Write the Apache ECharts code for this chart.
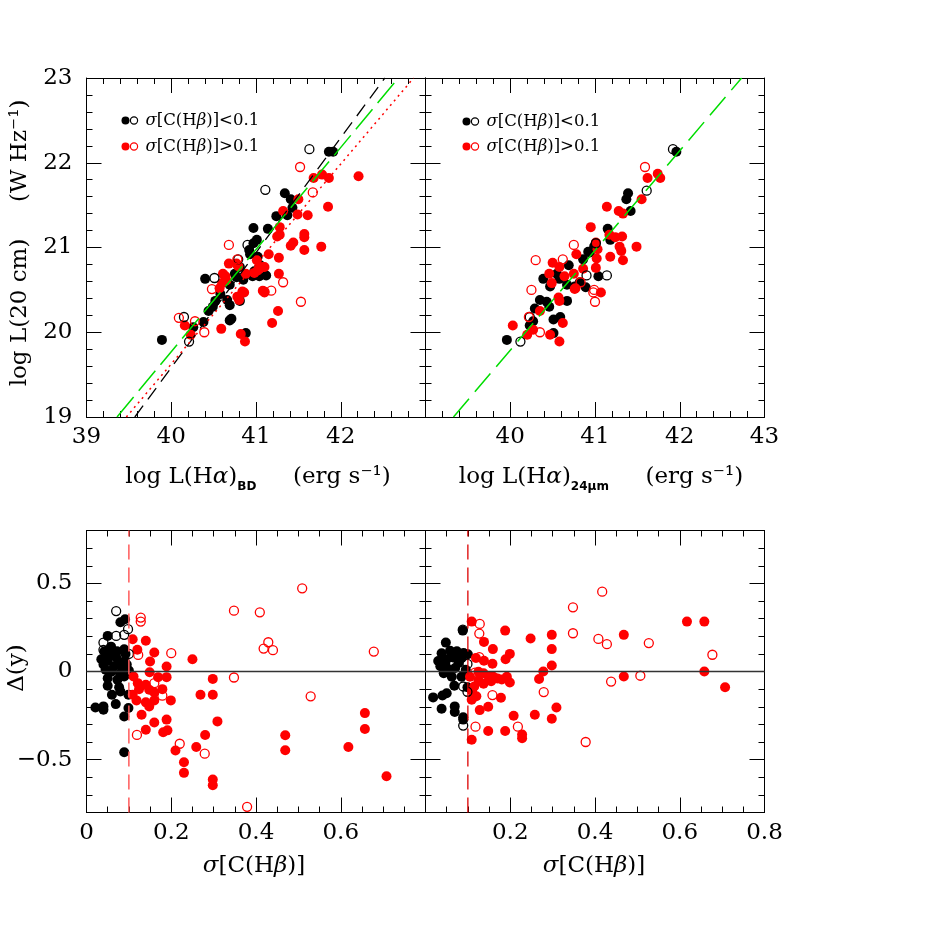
<!DOCTYPE html>
<html><head><meta charset="utf-8">
<script src="https://cdn.jsdelivr.net/npm/echarts@6/dist/echarts.min.js"></script>
<style>html,body{margin:0;padding:0;background:#fff}#c{width:926px;height:926px}</style>
</head><body><div id="c"></div>
<script>
// ---------- DATA ----------
// Top-left: log L(Halpha)_BD vs log L(20cm)
const tlBlackFilled = [[41.86,22.13],[41.91,22.13],[41.34,21.64],[41.41,21.57],[41.43,21.47],[41.37,21.38],[41.24,21.37],
 [40.97,21.23],[41.14,21.22],[41.01,21.09],[40.97,21.05],[40.92,20.97],[40.93,20.92],[41.02,20.89],[41.05,20.79],
 [40.96,20.66],[41.04,20.66],[41.12,20.67],[40.81,20.77],[40.75,20.69],[40.77,20.65],[40.69,20.56],[40.98,20.72],[40.85,20.62],
 [40.66,20.38],[40.69,20.32],[40.81,20.37],[40.40,20.63],[40.52,20.37],[40.49,20.30],[40.44,20.25],[40.58,20.45],
 [40.38,20.12],[40.26,20.06],[39.89,19.91],[40.88,19.99],[40.71,20.16],[40.69,20.14]];
const tlBlackOpen = [[41.63,22.16],[41.11,21.68],[40.90,21.03],[40.79,20.86],[40.51,20.64],[40.15,20.18],[40.21,19.89]];
const tlRedFilled = [[41.68,21.82],[41.78,21.86],[41.86,21.82],[42.21,21.84],[41.50,21.57],[41.85,21.48],[41.32,21.43],[41.49,21.39],[41.61,21.38],
 [41.28,21.24],[41.25,21.13],[41.28,21.15],[41.57,21.16],[41.57,21.12],[41.44,21.06],[41.41,21.02],[41.57,20.97],[41.77,21.01],
 [41.15,20.92],[41.27,20.88],[41.01,20.85],[41.08,20.77],[41.02,20.73],[41.27,20.69],[40.79,20.78],[40.68,20.81],[40.88,20.69],
 [40.61,20.69],[40.64,20.66],[40.60,20.58],[40.57,20.52],[40.78,20.42],[40.86,20.47],[40.80,20.38],[41.08,20.49],[41.26,20.25],
 [41.19,20.11],[40.59,20.04],[40.82,19.98],[40.87,19.89],[40.16,20.08],[40.23,19.97],
 [40.65,20.61],[40.77,20.81],[40.98,20.70],[41.04,20.75],[41.10,20.77],[41.10,20.47],[40.84,20.48]];
const tlRedOpen = [[41.52,21.95],[41.67,21.65],[40.68,21.03],[40.78,20.86],[41.32,20.59],[41.18,20.49],[41.10,20.48],
 [41.53,20.36],[40.48,20.51],[40.09,20.17],[40.28,20.13],[40.39,20.00]];
const tlGreenFit = [[39.36,19],[42.68,23]];
const tlBlackFit = [[39.57,19],[42.52,23]];
const tlRedFit = [[39.47,19],[42.86,23]];

// Top-right: log L(Halpha)_24um vs log L(20cm)
const trBlackFilled = [[41.96,22.13],[41.39,21.64],[41.37,21.57],[41.42,21.43],[41.15,21.22],[41.18,21.09],[40.99,21.01],[40.94,20.94],[40.86,20.86],
 [40.69,20.79],[40.55,20.69],[40.39,20.63],[40.47,20.54],[40.58,20.63],[40.67,20.56],[40.82,20.59],[40.89,20.53],[41.04,20.66],
 [40.35,20.38],[40.43,20.36],[40.46,20.30],[40.67,20.37],[40.29,20.28],[40.27,20.13],[40.23,20.08],[40.59,20.18],[40.51,20.15],
 [40.51,19.99],[39.96,19.91],[40.92,20.95],[40.76,20.54]];
const trBlackOpen = [[41.92,22.16],[41.61,21.67],[41.14,20.67],[40.90,20.67],[41.01,21.05],[40.12,19.89],[40.23,20.18]];
const trRedFilled = [[41.62,21.82],[41.74,21.87],[41.77,21.82],[41.55,21.57],[41.14,21.48],[41.28,21.43],[41.33,21.40],[40.95,21.24],[41.17,21.15],
 [41.24,21.12],[41.32,21.13],[41.29,21.01],[41.31,20.96],[41.49,21.01],[41.18,20.89],[41.33,20.85],[41.01,21.06],[40.78,20.92],
 [41.02,20.87],[41.01,20.76],[40.50,20.82],[40.58,20.77],[40.46,20.69],[40.64,20.66],[40.75,20.69],[40.86,20.75],[40.49,20.58],
 [40.77,20.52],[40.57,20.41],[41.07,20.47],[40.35,20.25],[40.62,20.11],[40.03,20.08],[40.20,19.97],[40.27,20.03],[40.47,19.97],[40.58,19.89],
 [40.76,20.51],[40.58,20.37],[41.03,20.98]];
const trRedOpen = [[41.59,21.95],[40.75,21.03],[40.30,20.85],[40.62,20.86],[40.25,20.50],[40.83,20.59],[40.99,20.50],[41.00,20.36],
 [40.22,20.18],[40.35,20.00],[40.98,20.47]];
const trGreenFit = [[39.33,19],[42.73,23]];

// Bottom-left: sigma[C(Hbeta)] vs Delta(y) (BD)
const blBlackFilled = [[0.080,0.279],[0.091,0.296],[0.050,0.202],[0.089,0.126],[0.058,0.141],[0.042,0.113],
 [0.055,0.090],[0.070,0.080],[0.050,0.060],[0.075,0.050],[0.040,0.040],[0.065,0.030],[0.090,0.060],[0.085,0.020],[0.045,0.010],
 [0.060,0.000],[0.080,-0.010],[0.095,0.040],[0.100,0.005],[0.035,0.070],[0.062,0.105],[0.092,0.100],[0.072,0.115],
 [0.050,-0.038],[0.073,-0.047],[0.089,-0.028],[0.050,-0.081],[0.077,-0.089],[0.060,-0.132],[0.080,-0.113],[0.099,-0.132],
 [0.021,-0.204],[0.040,-0.198],[0.040,-0.217],[0.069,-0.185],[0.099,-0.207],[0.089,-0.255],[0.089,-0.458]];
const blBlackOpen = [[0.070,0.343],[0.098,0.240],[0.070,0.202],[0.089,0.208],[0.040,0.164],[0.040,0.123],[0.100,0.100]];
const blRedFilled = [[0.250,0.070],[0.298,-0.042],[0.269,-0.132],[0.298,-0.132],[0.309,-0.283],[0.280,-0.360],[0.259,-0.428],
 [0.210,-0.448],[0.230,-0.515],[0.230,-0.575],[0.298,-0.613],[0.298,-0.645],
 [0.469,-0.362],[0.469,-0.447],[0.657,-0.236],[0.657,-0.326],[0.618,-0.428],[0.708,-0.594],
 [0.199,-0.164],[0.189,0.028],[0.189,-0.032],[0.189,-0.273],[0.181,-0.345],[0.191,-0.334],
 [0.160,0.108],[0.150,0.057],[0.149,-0.004],[0.169,-0.032],[0.140,0.174],[0.109,0.183],[0.120,0.123],
 [0.130,-0.245],[0.140,-0.330],[0.160,-0.289],[0.148,-0.198],[0.140,-0.175],[0.118,-0.164],[0.109,-0.132],
 [0.111,-0.028],[0.121,-0.066],[0.140,-0.075],[0.124,-0.100],[0.148,-0.104],[0.160,-0.119],[0.179,-0.100],[0.160,-0.164]];
const blRedOpen = [[0.509,0.472],[0.348,0.345],[0.409,0.336],[0.429,0.166],[0.418,0.130],[0.440,0.121],[0.678,0.113],
 [0.348,-0.034],[0.529,-0.141],[0.200,0.104],[0.220,-0.410],[0.279,-0.466],[0.379,-0.768],[0.119,-0.360],
 [0.128,0.306],[0.128,0.283],[0.179,-0.137],[0.160,-0.066],[0.122,0.094]];

// Bottom-right: sigma[C(Hbeta)] vs Delta(y) (24um)
const brBlackFilled = [[0.088,0.232],[0.048,0.164],[0.038,0.104],[0.058,0.118],[0.074,0.115],[0.090,0.105],[0.100,0.098],
 [0.035,0.030],[0.047,0.040],[0.055,0.010],[0.043,-0.010],[0.070,0.020],[0.078,0.048],[0.062,-0.030],[0.085,-0.030],
 [0.095,0.010],[0.050,0.070],[0.065,0.080],[0.030,0.060],[0.085,0.075],
 [0.068,-0.081],[0.099,-0.089],[0.018,-0.147],[0.040,-0.136],[0.050,-0.123],[0.038,-0.211],[0.069,-0.198],[0.069,-0.230],
 [0.089,-0.260],[0.089,-0.273]];
const brBlackOpen = [[0.088,0.238],[0.099,0.043],[0.089,-0.085],[0.099,-0.115],[0.089,-0.307]];
const brRedFilled = [[0.109,0.283],[0.138,0.168],[0.159,0.127],[0.158,0.044],[0.138,0.061],[0.119,0.077],[0.188,0.232],
 [0.199,0.100],[0.189,0.070],[0.248,0.187],[0.298,0.208],[0.298,0.127],[0.298,0.034],[0.278,0.000],[0.268,-0.043],
 [0.468,0.208],[0.468,-0.028],[0.617,0.283],[0.658,0.283],[0.658,0.000],[0.707,-0.089],
 [0.199,-0.062],[0.178,-0.149],[0.148,-0.200],[0.128,-0.219],[0.109,-0.160],[0.109,-0.387],[0.148,-0.338],[0.188,-0.338],
 [0.208,-0.251],[0.228,-0.357],[0.228,-0.379],[0.258,-0.245],[0.298,-0.268],[0.309,-0.204],
 [0.125,-0.002],[0.137,-0.010],[0.148,-0.025],[0.160,-0.030],[0.170,-0.040],[0.180,-0.045],[0.192,-0.030],
 [0.125,-0.050],[0.115,-0.085],[0.110,-0.110],[0.120,-0.140],[0.137,-0.070],[0.155,-0.055],[0.105,-0.030]];
const brRedOpen = [[0.417,0.453],[0.348,0.364],[0.348,0.217],[0.408,0.185],[0.428,0.155],[0.527,0.161],[0.677,0.095],
 [0.438,-0.057],[0.507,-0.024],[0.279,-0.117],[0.378,-0.400],[0.218,-0.313],[0.158,-0.134],[0.118,-0.313],
 [0.128,0.270],[0.127,0.215],[0.127,0.081],[0.117,-0.006]];

// reference lines in the lower panels
const zeroLine = [[0,0],[0.8,0]];
const sigmaCut = [[0.1,-0.8],[0.1,0.8]];

// axis ranges / tick labels
const topXRange = {min:39, max:43, interval:1, minor:5};
const topYRange = {min:19, max:23, interval:1, minor:5};
const botXRange = {min:0, max:0.8, interval:0.2, minor:4};
const botYRange = {min:-0.8, max:0.8, interval:0.1, minor:0};
const botYMajor = {min:-0.5, max:0.5, interval:0.5, minor:0};

// ---------- CHART ----------
const FONT = 'DejaVu Serif';
const FS = 23;
const P = [
  {left:86.5, top:78, width:339, height:339},
  {left:425.5, top:78, width:339, height:339},
  {left:86.5, top:530.5, width:339, height:282},
  {left:425.5, top:530.5, width:339, height:282}
];
// sub-grids carrying the long ticks of the lower panels' y axes
function subGrid(p){
  const span = botYRange.max - botYRange.min;
  return {left:p.left, width:p.width,
    top: p.top + (botYRange.max - botYMajor.max)/span*p.height,
    height: (botYMajor.max - botYMajor.min)/span*p.height};
}
const grids = P.concat([subGrid(P[2]), subGrid(P[3])]);

function fmtNum(v){
  if (Math.abs(v) < 1e-9) return '0';
  return String(+v.toFixed(2)).replace('-', '\u2212');
}
function axisPair(dim, gi, cfg, labelFmt, opts){
  opts = opts || {};
  const base = {
    type:'value', gridIndex:gi, min:cfg.min, max:cfg.max, interval:cfg.interval,
    axisLine:{show:!opts.noLine, onZero:false, lineStyle:{color:'#000', width:1}},
    axisTick:{show:true, inside:true, length:opts.tickLen || 15, lineStyle:{color:'#000', width:1}},
    minorTick:{show:!!cfg.minor, splitNumber:cfg.minor || 5, length:6, lineStyle:{color:'#000', width:1}},
    splitLine:{show:false}, minorSplitLine:{show:false}
  };
  const a = Object.assign({}, base, {
    position: dim === 'x' ? 'bottom' : 'left',
    axisLabel: labelFmt ? {show:true, formatter:labelFmt, fontFamily:FONT, fontSize:FS, color:'#000',
      margin: dim === 'x' ? 9 : 14, showMinLabel:true, showMaxLabel:true, hideOverlap:false} : {show:false}
  });
  const b = Object.assign({}, base, {position: dim === 'x' ? 'top' : 'right', axisLabel:{show:false}});
  return [a, b];
}

const xAxis = [].concat(
  axisPair('x', 0, topXRange, v => v > 42.5 ? '' : String(v)),
  axisPair('x', 1, topXRange, v => v < 39.5 ? '' : String(v)),
  axisPair('x', 2, botXRange, v => v > 0.75 ? '' : fmtNum(v)),
  axisPair('x', 3, botXRange, v => v < 0.05 ? '' : fmtNum(v)),
  [{type:'value', gridIndex:4, show:false, min:0, max:1}, {type:'value', gridIndex:5, show:false, min:0, max:1}]
);
const yAxis = [].concat(
  axisPair('y', 0, topYRange, v => String(v)),
  axisPair('y', 1, topYRange, null),
  axisPair('y', 2, botYRange, null, {tickLen:6}),
  axisPair('y', 3, botYRange, null, {tickLen:6}),
  axisPair('y', 4, botYMajor, v => fmtNum(v), {noLine:true}),
  axisPair('y', 5, botYMajor, null, {noLine:true})
);

function sc(data, xi, yi, color, filled){
  return {type:'scatter', xAxisIndex:xi, yAxisIndex:yi, data:data, symbol:'circle',
    symbolSize: filled ? 10 : 9, silent:true, z: filled ? 2 : 3, animation:false,
    itemStyle: filled ? {color:color, opacity:1} : {color:'rgba(0,0,0,0)', borderColor:color, borderWidth:1.3, opacity:1}};
}
function ln(data, xi, yi, color, type, width){
  return {type:'line', xAxisIndex:xi, yAxisIndex:yi, data:data, symbol:'none', silent:true, z:5, animation:false,
    lineStyle:{color:color, type:type, width:width}};
}
const RED = '#ff0000', BLK = '#000000', GRN = '#00dd00';
const series = [
  sc(tlBlackFilled, 0, 0, BLK, true), sc(tlBlackOpen, 0, 0, BLK, false),
  sc(tlRedFilled, 0, 0, RED, true), sc(tlRedOpen, 0, 0, RED, false),
  ln(tlBlackFit, 0, 0, BLK, [14, 8], 1.3), ln(tlGreenFit, 0, 0, GRN, [26, 8], 1.5), ln(tlRedFit, 0, 0, RED, [2, 4], 1.5),
  sc(trBlackFilled, 2, 2, BLK, true), sc(trBlackOpen, 2, 2, BLK, false),
  sc(trRedFilled, 2, 2, RED, true), sc(trRedOpen, 2, 2, RED, false),
  ln(trGreenFit, 2, 2, GRN, [24, 9], 1.5),
  sc(blBlackFilled, 4, 4, BLK, true), sc(blBlackOpen, 4, 4, BLK, false),
  sc(blRedFilled, 4, 4, RED, true), sc(blRedOpen, 4, 4, RED, false),
  ln(zeroLine, 4, 4, '#333', 'solid', 1.5), ln(sigmaCut, 4, 4, '#ff5a5a', [15, 8], 1.5),
  sc(brBlackFilled, 6, 6, BLK, true), sc(brBlackOpen, 6, 6, BLK, false),
  sc(brRedFilled, 6, 6, RED, true), sc(brRedOpen, 6, 6, RED, false),
  ln(zeroLine, 6, 6, '#333', 'solid', 1.5), ln(sigmaCut, 6, 6, '#dd0000', [15, 8], 1.3)
];

const F = px => px + 'px "' + FONT + '"';
const richBase = {
  n:{font:F(FS), fill:'#000', lineHeight:32},
  i:{font:'italic ' + F(FS), fill:'#000', lineHeight:32},
  s:{font:'bold 12px "DejaVu Sans"', fill:'#000', verticalAlign:'bottom'}
};
function txt(x, y, text, rich, rot){
  return {type:'text', x:x, y:y, rotation:rot || 0, silent:true, z:10,
    style:{text:text, rich:rich, font:F(FS), fill:'#000', align:'center', verticalAlign:'middle',
      textAlign:'center', textVerticalAlign:'middle'}};
}
const legRich = {
  n:{font:F(16.5), fill:'#000'},
  i:{font:'italic ' + F(16.5), fill:'#000'}
};
function legend(px, py, color, text){
  return [
    {type:'circle', shape:{cx:px, cy:py, r:4}, style:{fill:color}, silent:true, z:10},
    {type:'circle', shape:{cx:px + 8.5, cy:py, r:3.6}, style:{fill:'none', stroke:color, lineWidth:1.2}, silent:true, z:10},
    {type:'text', x:px + 20, y:py, silent:true, z:10,
      style:{text:text, rich:legRich, font:F(16.5), fill:'#000', align:'left', verticalAlign:'middle', textAlign:'left', textVerticalAlign:'middle'}}
  ];
}
const legLow = '{i|σ}{n|[C(H}{i|β}{n|)]<0.1}';
const legHigh = '{i|σ}{n|[C(H}{i|β}{n|)]>0.1}';

const graphic = [].concat(
  [txt(20, 243, '{n|log L(20 cm)     (W Hz⁻¹)}', richBase, Math.PI / 2)],
  [txt(17, 668, '{n|Δ(y)}', richBase, Math.PI / 2)],
  [txt(258, 477, '{n|log L(H}{i|α}{n|)}{s|BD}{n|     (erg s⁻¹)}', richBase)],
  [txt(601, 477, '{n|log L(H}{i|α}{n|)}{s|24μm}{n|     (erg s⁻¹)}', richBase)],
  [txt(254, 866, '{i|σ}{n|[C(H}{i|β}{n|)]}', richBase)],
  [txt(594, 866, '{i|σ}{n|[C(H}{i|β}{n|)]}', richBase)],
  legend(125.5, 120.5, BLK, legLow), legend(125.5, 146.5, RED, legHigh),
  legend(466.5, 121.5, BLK, legLow), legend(466.5, 146.5, RED, legHigh)
);

const chart = echarts.init(document.getElementById('c'), null, {renderer:'canvas'});
chart.setOption({
  animation:false,
  backgroundColor:'#fff',
  textStyle:{fontFamily:FONT},
  grid: grids.map(g => Object.assign({containLabel:false}, g)),
  xAxis: xAxis,
  yAxis: yAxis,
  series: series,
  graphic: graphic
});
</script></body></html>
